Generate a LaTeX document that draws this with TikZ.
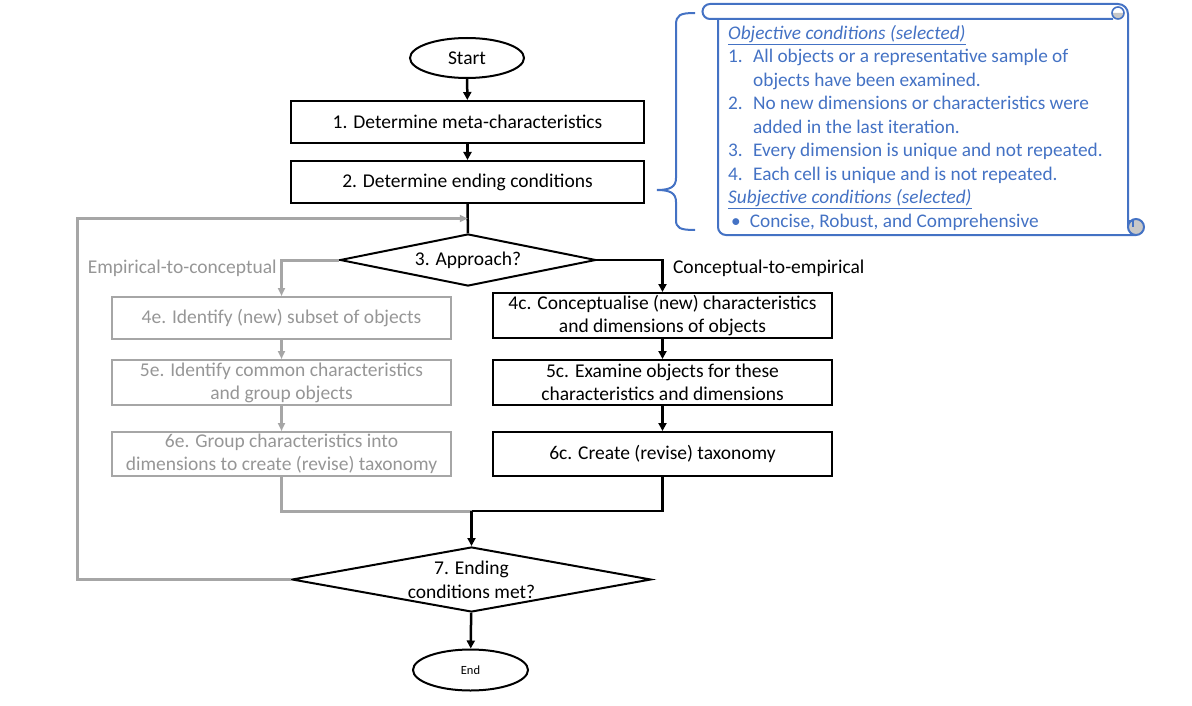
\documentclass[tikz,border=0pt]{standalone}
\usepackage{fontspec}
\setmainfont{Carlito}
\usetikzlibrary{arrows.meta,positioning,shapes.geometric,calc}
\definecolor{linegray}{RGB}{166,166,166}
\definecolor{textgray}{RGB}{150,150,150}
\definecolor{scrollblue}{RGB}{68,114,196}
\definecolor{curlgray}{RGB}{200,200,200}

\begin{document}
\begin{tikzpicture}[x=1pt,y=-1pt,font=\fontsize{19.5}{23}\selectfont,
  >={Triangle[length=8pt,width=8pt]},
  stepbox/.style={draw,line width=2pt,align=center,minimum width=353pt,minimum height=42pt,inner sep=2pt},
  cbox/.style={draw,line width=2pt,align=center,minimum width=339pt,minimum height=45pt,inner sep=2pt},
  ebox/.style={cbox,draw=linegray,text=textgray},
  decision/.style={diamond,draw,line width=2pt,align=center,inner sep=0pt},
  terminal/.style={ellipse,draw,line width=2pt,inner sep=0pt},
  flow/.style={line width=2.5pt,->},
  eflow/.style={line width=3pt,draw=linegray,->,>={Triangle[length=8pt,width=7pt]}},
  scroll/.style={draw=scrollblue,line width=2pt}]
  \useasboundingbox (0,0) rectangle (1192,706);
  % main column
  \node[terminal,minimum width=114pt,minimum height=40pt] (start) at (467,58) {Start};
  \node[stepbox] (s1) at (467.5,122) {1. Determine meta-characteristics};
  \node[stepbox] (s2) at (467.5,182) {2. Determine ending conditions};
  \node[decision,aspect=4.9,minimum width=256pt,minimum height=52pt] (approach) at (468,260) {3. Approach?};
  % empirical branch
  \node[ebox,minimum height=42pt] (e4) at (281.5,318) {4e. Identify (new) subset of objects};
  \node[ebox] (e5) at (281.5,382.5) {5e. Identify common characteristics\\and group objects};
  \node[ebox,minimum height=44pt] (e6) at (281.5,454) {6e. Group characteristics into\\dimensions to create (revise) taxonomy};
  % conceptual branch
  \node[cbox] (c4) at (662.5,315.5) {4c. Conceptualise (new) characteristics\\and dimensions of objects};
  \node[cbox] (c5) at (662.5,382.5) {5c. Examine objects for these\\characteristics and dimensions};
  \node[cbox,minimum height=44pt] (c6) at (662.5,454) {6c. Create (revise) taxonomy};
  \node[decision,aspect=5.5,minimum width=359pt,minimum height=65pt,font=\fontsize{19.5}{24}\selectfont] (met) at (471.5,579.5) {7. Ending\\conditions met?};
  \node[terminal,minimum width=115pt,minimum height=41pt,font=\fontsize{12.5}{15}\selectfont] (end) at (470.5,670) {End};
  \coordinate (loop) at ($(s2.south)!0.5!(approach.north)$);
  \coordinate (merge) at ($(met.north)+(0,-35)$);

  \draw[flow] (start) -- (s1);
  \draw[flow] (s1) -- (s2);
  \draw[line width=2.5pt] (s2) -- (approach);
  \draw[eflow] (met.west) -- ++(-214,0) |- (loop);
  \draw[eflow] (approach.west) -| node[anchor=east,yshift=-8pt,text=textgray]{Empirical-to-conceptual} (e4.north);
  \draw[eflow] (e4) -- (e5);
  \draw[eflow] (e5) -- (e6);
  \draw[line width=3pt,linegray] (e6.south) |- (merge);
  \draw[flow] (approach.east) -| node[anchor=west,yshift=-8pt,xshift=6pt]{Conceptual-to-empirical} (c4.north);
  \draw[flow] (c4) -- (c5);
  \draw[flow] (c5) -- (c6);
  \draw[line width=2.5pt] (c6.south) |- (merge);
  \draw[flow] (merge) -- (met.north);
  \draw[flow] (met) -- (end);

  % ending conditions scroll
  \draw[scroll] (695,13) .. controls (680,13) and (676,15) .. (676,25) -- (676,178)
    .. controls (676,187) and (670,190) .. (657,190) .. controls (670,190) and (676,193) .. (676,202)
    -- (676,220) .. controls (676,228) and (680,230) .. (695,230);
  \draw[scroll] (1118,4) -- (710,4) arc[start angle=270,end angle=90,radius=7.5] -- (1113,19);
  \draw[scroll] (1118,4) arc[start angle=270,end angle=360,radius=10] -- (1128,227);
  \fill[curlgray] (1112,13) arc[start angle=180,end angle=0,radius=6] -- cycle;
  \draw[scroll,line width=1.6pt] (1118,13) circle[radius=6];
  \draw[scroll] (718,19) -- (718,227) arc[start angle=180,end angle=90,radius=8] -- (1136,235);
  \draw[scroll,fill=curlgray] (1136,227) circle[radius=8];
  \draw[scroll,line width=1.4pt] (1128,221) -- (1133,221) -- (1133,227);
  \node[anchor=north west,inner sep=0pt,text=scrollblue,align=left] (cond) at (728,22.5)
    {\fontsize{19.3}{23.5}\selectfont
     \begin{tabular}{@{}p{25pt}@{}l@{}}
     \multicolumn{2}{@{}l}{\underline{\textit{Objective conditions (selected)}}}\\
     1. & All objects or a representative sample of\\
        & objects have been examined.\\
     2. & No new dimensions or characteristics were\\
        & added in the last iteration.\\
     3. & Every dimension is unique and not repeated.\\
     4. & Each cell is unique and is not repeated.\\
     \multicolumn{2}{@{}l}{\underline{\textit{Subjective conditions (selected)}}}\\
     \multicolumn{2}{@{}l}{\hspace{3pt}\textbullet\hspace{9pt}Concise, Robust, and Comprehensive}
     \end{tabular}};
\end{tikzpicture}
\end{document}
